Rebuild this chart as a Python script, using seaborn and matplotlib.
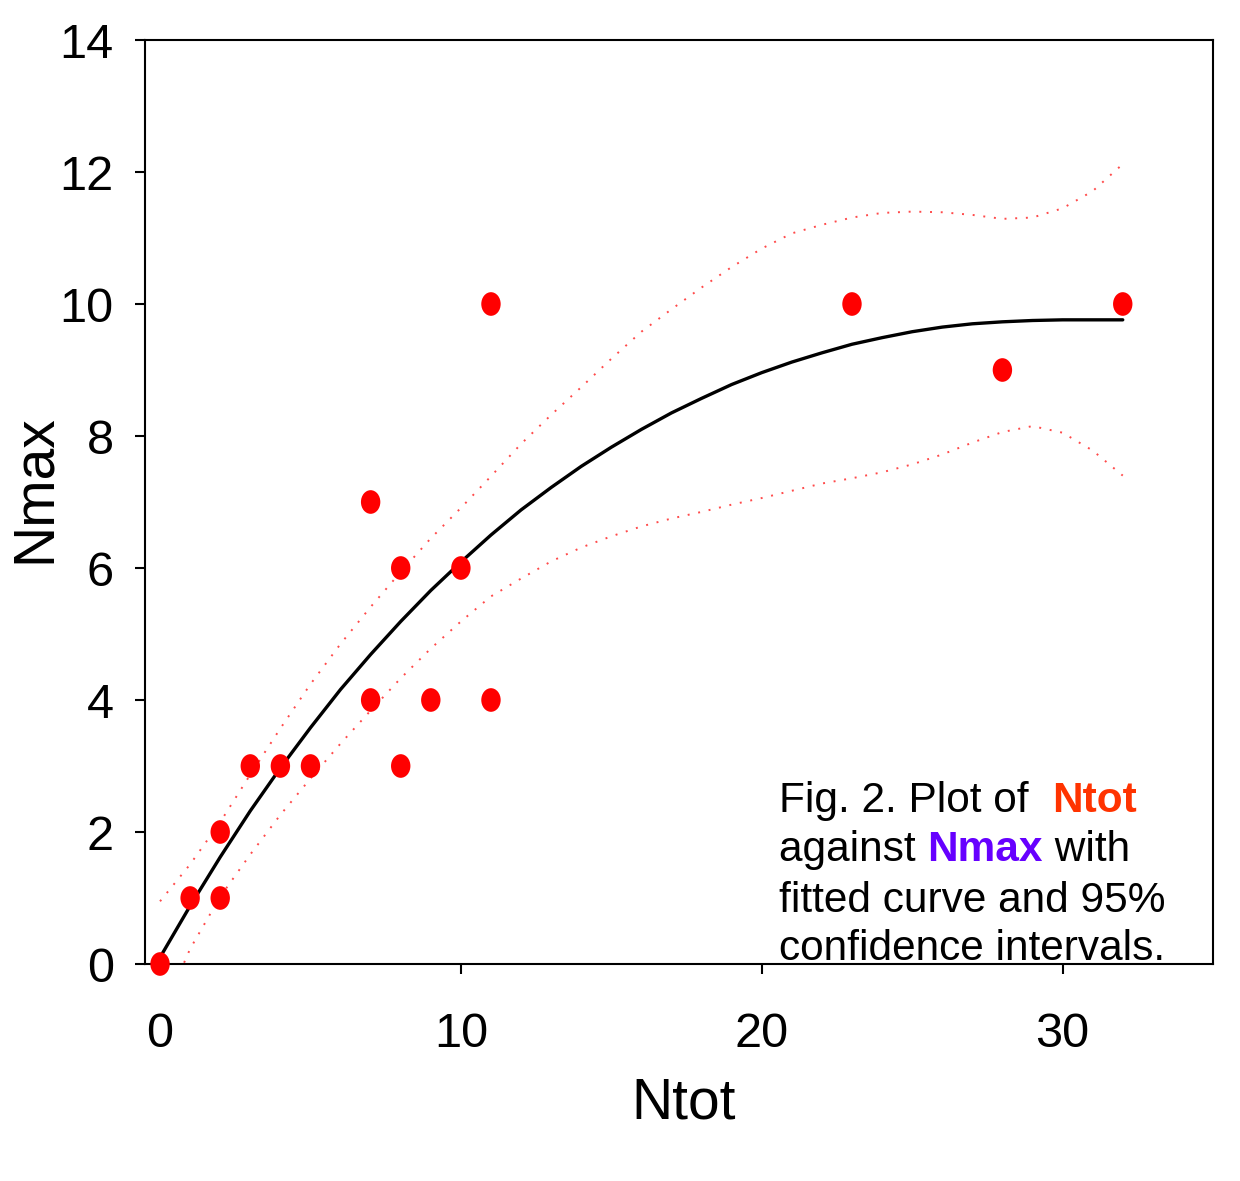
import numpy as np
import pandas as pd
import matplotlib
matplotlib.use("Agg")
import matplotlib.pyplot as plt
import seaborn as sns
from matplotlib.path import Path

# scatter data
ntot = [0, 1, 2, 2, 3, 4, 5, 7, 7, 8, 8, 9, 10, 11, 11, 23, 28, 32]
nmax = [0, 1, 1, 2, 3, 3, 3, 7, 4, 6, 3, 4, 6, 10, 4, 10, 9, 10]

# fitted curve and 95% confidence limits
curve_x = list(range(0, 33))
curve_y = [0.10, 0.88, 1.62, 2.32, 2.97, 3.58, 4.16, 4.69, 5.19, 5.66, 6.09,
           6.50, 6.88, 7.22, 7.54, 7.83, 8.10, 8.35, 8.57, 8.78, 8.96, 9.12,
           9.26, 9.39, 9.49, 9.58, 9.65, 9.70, 9.73, 9.75, 9.76, 9.76, 9.76]
upper_ci = [0.95, 1.51, 2.15, 2.87, 3.57, 4.24, 4.85, 5.41, 5.94, 6.45, 6.91,
            7.39, 7.88, 8.32, 8.74, 9.17, 9.58, 9.92, 10.25, 10.56, 10.84, 11.07,
            11.20, 11.31, 11.38, 11.40, 11.39, 11.35, 11.29, 11.31, 11.45, 11.71, 12.12]
lower_x = [0.8] + list(range(1, 33))
lower_ci = [0.02, 0.23, 1.02, 1.66, 2.26, 2.81, 3.34, 3.84, 4.33, 4.78, 5.19,
            5.57, 5.84, 6.10, 6.31, 6.48, 6.63, 6.75, 6.85, 6.96, 7.06, 7.17,
            7.28, 7.36, 7.45, 7.57, 7.72, 7.90, 8.06, 8.15, 8.05, 7.78, 7.40]

x_ticks = [0, 10, 20, 30]
y_ticks = [0, 2, 4, 6, 8, 10, 12, 14]

df = pd.DataFrame({"Ntot": ntot, "Nmax": nmax})
fit = pd.DataFrame({"x": curve_x, "fit": curve_y, "hi": upper_ci})
low = pd.DataFrame({"x": lower_x, "lo": lower_ci})

sns.set_theme(style="ticks")
plt.rcParams["font.family"] = ["Liberation Sans", "DejaVu Sans"]

fig = plt.figure(figsize=(12.4, 11.81), dpi=100)
ax = fig.add_axes([145 / 1240, 1 - 964 / 1181, (1213 - 145) / 1240, (964 - 40) / 1181])

dot = (0, (1, 4.5))
sns.lineplot(data=fit, x="x", y="hi", ax=ax, color="#ff4a4a", lw=1.4, linestyle=dot, sort=False)
sns.lineplot(data=low, x="x", y="lo", ax=ax, color="#ff4a4a", lw=1.4, linestyle=dot, sort=False)
sns.lineplot(data=fit, x="x", y="fit", ax=ax, color="black", lw=2.4, sort=False)

circ = Path.unit_circle()
ellipse = Path(circ.vertices * np.array([0.82, 1.0]), circ.codes)
sns.scatterplot(data=df, x="Ntot", y="Nmax", ax=ax, marker=ellipse, s=290,
                color="red", edgecolor="none", linewidth=0, zorder=4, clip_on=False)

ax.set_xlim(-0.5, 35)
ax.set_ylim(0, 14)
ax.set_xticks(x_ticks)
ax.set_yticks(y_ticks)
for sp in ax.spines.values():
    sp.set_visible(True)
    sp.set_linewidth(1.5)
    sp.set_color("black")
ax.tick_params(axis="both", direction="out", length=7.5, width=1.5, color="black")
ax.tick_params(axis="x", pad=27)
ax.tick_params(axis="y", pad=15)
for lab in ax.get_xticklabels() + ax.get_yticklabels():
    lab.set_fontsize(35)
    lab.set_color("black")
ax.set_xlabel("Ntot", fontsize=41, color="black", labelpad=14)
ax.xaxis.label.set_x(0.504)
ax.set_ylabel("Nmax", fontsize=41, color="black")
ax.yaxis.set_label_coords(-0.0777, 0.515)

# caption with coloured words
lines = [
    [("Fig. 2. Plot of  ", "black", "normal"), ("Ntot", "#ff3300", "bold")],
    [("against ", "black", "normal"), ("Nmax", "#6600ff", "bold"), (" with", "black", "normal")],
    [("fitted curve and 95%", "black", "normal")],
    [("confidence intervals.", "black", "normal")],
]
baselines = [812, 861, 912, 960]
for segs, base in zip(lines, baselines):
    prev = None
    for txt, col, wt in segs:
        if prev is None:
            prev = fig.text(779 / 1240, 1 - (base + 9) / 1181, txt, color=col, fontweight=wt,
                            fontsize=30.5, va="bottom", ha="left", zorder=6)
        else:
            prev = ax.annotate(txt, xy=(1, 0), xycoords=prev, color=col, fontweight=wt,
                               fontsize=30.5, va="bottom", ha="left", zorder=6,
                               annotation_clip=False)

fig.savefig("out.png", dpi=100)
